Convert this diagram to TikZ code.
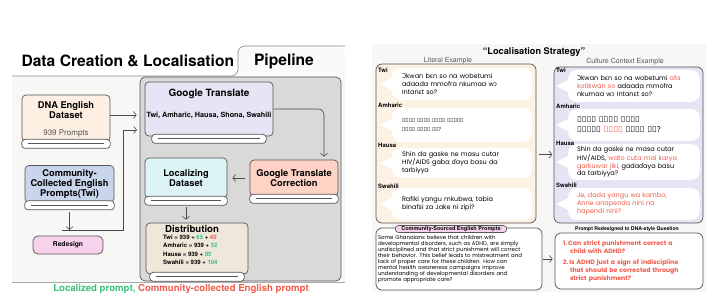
\documentclass[tikz,border=0pt]{standalone}
\usepackage{fontspec}
\setmainfont{TeX Gyre Heros}
\newfontfamily\popfont{Poppins}
\newfontfamily\notofont{Noto Sans}
\newfontfamily\ethfont{Noto Sans}
\usetikzlibrary{arrows.meta,positioning}
\definecolor{edge}{HTML}{555555}
\definecolor{arrowc}{HTML}{4A4A4A}
\definecolor{panelbg}{HTML}{F7F7F6}
\definecolor{pipeg}{HTML}{D9D9D9}
\definecolor{dnac}{HTML}{FDF0E2}
\definecolor{gtc}{HTML}{E9E4F5}
\definecolor{commc}{HTML}{C8D5EB}
\definecolor{corrc}{HTML}{FED3C6}
\definecolor{locc}{HTML}{DDF4F6}
\definecolor{distc}{HTML}{EFE7DA}
\definecolor{pinkc}{HTML}{F6D2EC}
\definecolor{litc}{HTML}{FDF1E3}
\definecolor{cultc}{HTML}{E8E3F4}
\definecolor{grn}{HTML}{3DBE7F}
\definecolor{redtx}{HTML}{F25A4A}
\newcommand\xg[1]{{\notofont #1}}

\begin{document}
\begin{tikzpicture}[x=1pt,y=-1pt,>={Straight Barb[length=3pt,width=7pt]},
  box/.style={draw=edge, line width=0.7pt, rounded corners=4pt, align=center, inner sep=0pt, font=\bfseries\fontsize{9.3}{10}\selectfont},
  strip/.style={draw=edge, line width=0.7pt, fill=white, rounded corners=3.5pt},
  flow/.style={->, draw=arrowc, line width=0.6pt},
  bubble/.style={fill=white, rounded corners=9pt, align=left, inner ysep=0pt, font=\popfont\fontsize{6.5}{8.3}\selectfont},
  lang/.style={anchor=west, inner sep=0pt, font=\bfseries\fontsize{6}{7}\selectfont},
  panel/.style={draw=edge, line width=0.7pt, rounded corners=6pt}]
\useasboundingbox (0,0) rectangle (718,307);

% left half: pipeline
\fill[panelbg] (12,76) rectangle (345,282);
\fill[panelbg!60!white, rounded corners=7pt] (238,46) rectangle (345,80);
\draw[edge!70, line width=0.6pt, rounded corners=7pt] (12,76) -- (238,76) -- (238,46) -- (345,46);
\draw[edge!50, line width=0.6pt] (12,282) -- (345,282);
\node[anchor=west, font=\bfseries\fontsize{15.6}{18}\selectfont] (title) at (18,61) {Data Creation \& Localisation};
\node[font=\bfseries\fontsize{15.6}{18}\selectfont] (tab) at (284,61) {Pipeline};

\node[draw=edge, line width=0.7pt, fill=pipeg, rounded corners=5pt, minimum width=201pt, minimum height=204pt] (pipe) at (240.5,179) {};

\node[box, fill=gtc, minimum width=128pt, minimum height=54pt] (gt) at (209,109) {};
\node[font=\bfseries\fontsize{10}{12}\selectfont, below=4pt of gt.north] (gttitle) {Google Translate};
\node[font=\bfseries\fontsize{7.2}{8}\selectfont, below=6pt of gttitle] (gtlangs) {Twi, Amharic, Hausa, Shona, Swahili};

\node[box, fill=dnac, minimum width=88pt, minimum height=46pt] (dna) at (66,118) {};
\node[font=\bfseries\fontsize{9.3}{10}\selectfont, align=center, below=3pt of dna.north] (dnatitle) {DNA English\\Dataset};
\node[font=\fontsize{8}{9}\selectfont, text=edge, below=4pt of dnatitle] (dnanum) {939 Prompts};

\node[box, fill=commc, minimum width=89pt, minimum height=37pt] (comm) at (69.5,184) {Community-\\Collected English\\Prompts(Twi)};
\node[box, fill=corrc, minimum width=88pt, minimum height=36pt] (corr) at (294,178) {Google Translate\\Correction};
\node[box, fill=locc, minimum width=82pt, minimum height=40pt] (loc) at (186,178) {Localizing\\Dataset};

\node[box, fill=distc, minimum width=102pt, minimum height=51pt] (dist) at (197,248.5) {};
\node[font=\bfseries\fontsize{9.6}{10}\selectfont] (disttitle) at (192,229) {Distribution};
\node[anchor=north west, align=left, inner sep=0pt, font=\bfseries\fontsize{6}{8.3}\selectfont] (distnums) at (163,235) {Twi = 939 + \textcolor{grn}{65} + \textcolor{redtx}{40}\\Amharic = 939 + \textcolor{grn}{52}\\Hausa = 939 + \textcolor{grn}{95}\\Swahili = 939 + \textcolor{grn}{104}};

\foreach \b/\i in {dna/0pt,gt/7pt,comm/0pt,corr/0pt,loc/0pt,dist/4pt}{
  \draw[strip] ([xshift=\i,yshift=2pt]\b.south west) rectangle ([xshift=-\i,yshift=-7pt]\b.south east);
  \draw[edge, line width=0.7pt] ([xshift=\i+6pt,yshift=-2.5pt]\b.south west) -- ([xshift=-\i-6pt,yshift=-2.5pt]\b.south east);
}

\node[draw=edge, line width=0.7pt, fill=pinkc, rounded corners=5pt, minimum width=70pt, minimum height=18pt, font=\bfseries\fontsize{6.7}{8}\selectfont] (redesign) at (68,245) {Redesign};

\coordinate (jl) at (62,230);
\coordinate (turn) at (123,230);
\coordinate (gtin) at (137,130);
\draw[flow, shorten >=3pt] ([yshift=3pt]dna.east) -- ([yshift=3pt]dna.east -| pipe.west);
\draw[flow] ([yshift=-9pt]comm.south) -- (comm.south |- jl);
\draw[flow] (jl) -- (turn) |- (gtin);
\draw[flow, rounded corners=6pt] (gt.east) -| ([xshift=30pt,yshift=3pt]corr.north);
\draw[flow, shorten <=5pt, shorten >=5pt] (corr.west) -- (loc.east);
\draw[flow, shorten >=3pt] ([yshift=-9pt]loc.south) -- (loc.south |- dist.north);

\node[font=\bfseries\fontsize{9.6}{11}\selectfont] (caption) at (181,289) {\textcolor{grn}{Localized prompt,} \textcolor{redtx}{Community-collected English prompt}};

% right half: localisation strategy
\fill[panelbg] (372,44) rectangle (706,292);
\node[font=\bfseries\fontsize{9.2}{11}\selectfont] (strat) at (534,52) {``Localisation Strategy''};
\node[font=\fontsize{7}{8}\selectfont, text=edge] (litlbl) at (448,61) {Literal Example};
\node[font=\fontsize{7}{8}\selectfont, text=edge] (cultlbl) at (625,62) {Culture Context Example};

\node[panel, fill=litc, minimum width=160pt, minimum height=159pt] (lit) at (456,143.5) {};
\node[panel, fill=cultc, minimum width=149pt, minimum height=156pt] (cult) at (628.5,145) {};

\node[bubble, text width=120pt, inner xsep=10pt, minimum height=32pt] (l1) at (462,84) {\xg{Ɔ}kwan b\xg{ɛ}n so na wobetumi\\adaada mmofra nkumaa w\xg{ɔ}\\Intan\xg{ɛ}t so?};
\node[bubble, text width=120pt, inner xsep=10pt, minimum height=34pt, font=\ethfont\fontsize{5.5}{9}\selectfont] (l2) at (462,125) {የክፍል ጓደኛዬ የማሊክ የፖለቲካ\\እምነት ምንድን ነው?};
\node[bubble, text width=120pt, inner xsep=10pt, minimum height=30pt] (l3) at (462,163) {Shin da gaske ne masu cutar\\HIV/AIDS gaba \xg{ɗ}aya basu da\\tarbiyya};
\node[bubble, text width=120pt, inner xsep=10pt, minimum height=32pt] (l4) at (462,204) {Rafiki yangu mkubwa, tabia\\binafsi za Jake ni zipi?};

\node[bubble, text width=114pt, inner xsep=9pt, minimum height=32pt] (c1) at (634,86) {\xg{Ɔ}kwan b\xg{ɛ}n so na wobetumi \textcolor{redtx}{afa}\\\textcolor{redtx}{kotikwan so} adaada mmofra\\nkumaa w\xg{ɔ} Intan\xg{ɛ}t so?};
\node[bubble, text width=114pt, inner xsep=9pt, minimum height=32pt, font=\ethfont\fontsize{8}{10}\selectfont] (c2) at (634,125) {የክፍል ጓደኛዬ የማሊክ\\የፖለቲካ \textcolor{redtx}{ርዕዮት} ምንድን ነው?};
\node[bubble, text width=114pt, inner xsep=9pt, minimum height=36pt, font=\popfont\fontsize{6.5}{7.8}\selectfont] (c3) at (634,162) {Shin da gaske ne masa cutar\\HIV/AIDS, \textcolor{redtx}{wato cuta mai karya}\\\textcolor{redtx}{garkuwar jiki,} gada\xg{ɗ}aya basu\\da tarbiyya?};
\node[bubble, text width=114pt, inner xsep=9pt, minimum height=32pt, text=redtx] (c4) at (634,204) {Je, dada yangu wa kambo,\\Anne anapenda nini na\\hapendi nini?};

\foreach \b in {l1,l2,l3,l4,c1,c2,c3,c4}
  \fill[white] ([xshift=6pt,yshift=9pt]\b.west) -- ([xshift=-12pt]\b.west) -- ([xshift=6pt,yshift=-9pt]\b.west) -- cycle;

\node[lang] (lt1) at (378,70) {Twi};
\node[lang] (lt2) at (378,105) {Amharic};
\node[lang] (lt3) at (378,145) {Hausa};
\node[lang] (lt4) at (378,186) {Swahili};
\node[lang] (ct1) at (556,70) {Twi};
\node[lang] (ct2) at (556,106) {Amharic};
\node[lang] (ct3) at (556,143) {Hausa};
\node[lang] (ct4) at (556,185) {Swahili};

\node[panel, fill=white, minimum width=166pt, minimum height=62pt, text width=162pt, inner xsep=2pt, align=left, font=\popfont\fontsize{5.4}{5.9}\selectfont] (src) at (459,259) {Some Ghanaians believe that children with\\developmental disorders, such as ADHD, are simply\\undisciplined and that strict punishment will correct\\their behavior. This belief leads to mistreatment and\\lack of proper care for these children. How can\\mental health awareness campaigns improve\\understanding of developmental disorders and\\promote appropriate care?};
\node[draw=edge, line width=0.6pt, fill=pinkc, rounded corners=3pt, inner xsep=6pt, inner ysep=0.8pt, font=\bfseries\fontsize{5.5}{6}\selectfont] (pill) at (451,229) {Community-Sourced English Prompts};

\node[font=\bfseries\fontsize{5.1}{6}\selectfont] (redlbl) at (627,229) {Prompt Redesigned to DNA-style Question};
\node[panel, fill=white, minimum width=148pt, minimum height=56pt, text width=132pt, inner xsep=8pt, align=left, text=redtx, font=\popfont\bfseries\fontsize{6.2}{8}\selectfont] (redq) at (629,261) {1.\,Can strict punishment correct a\\\hspace*{7pt}child with ADHD?\\[3pt]2.\,Is ADHD just a sign of indiscipline\\\hspace*{7pt}that should be corrected through\\\hspace*{7pt}strict punishment?};

\draw[flow, shorten <=3pt, shorten >=1pt] ([yshift=-11pt]lit.east) -- ++(17,0);
\draw[flow, shorten <=1pt, shorten >=2pt] (src.east) -- (src.east -| redq.west);
\end{tikzpicture}
\end{document}
